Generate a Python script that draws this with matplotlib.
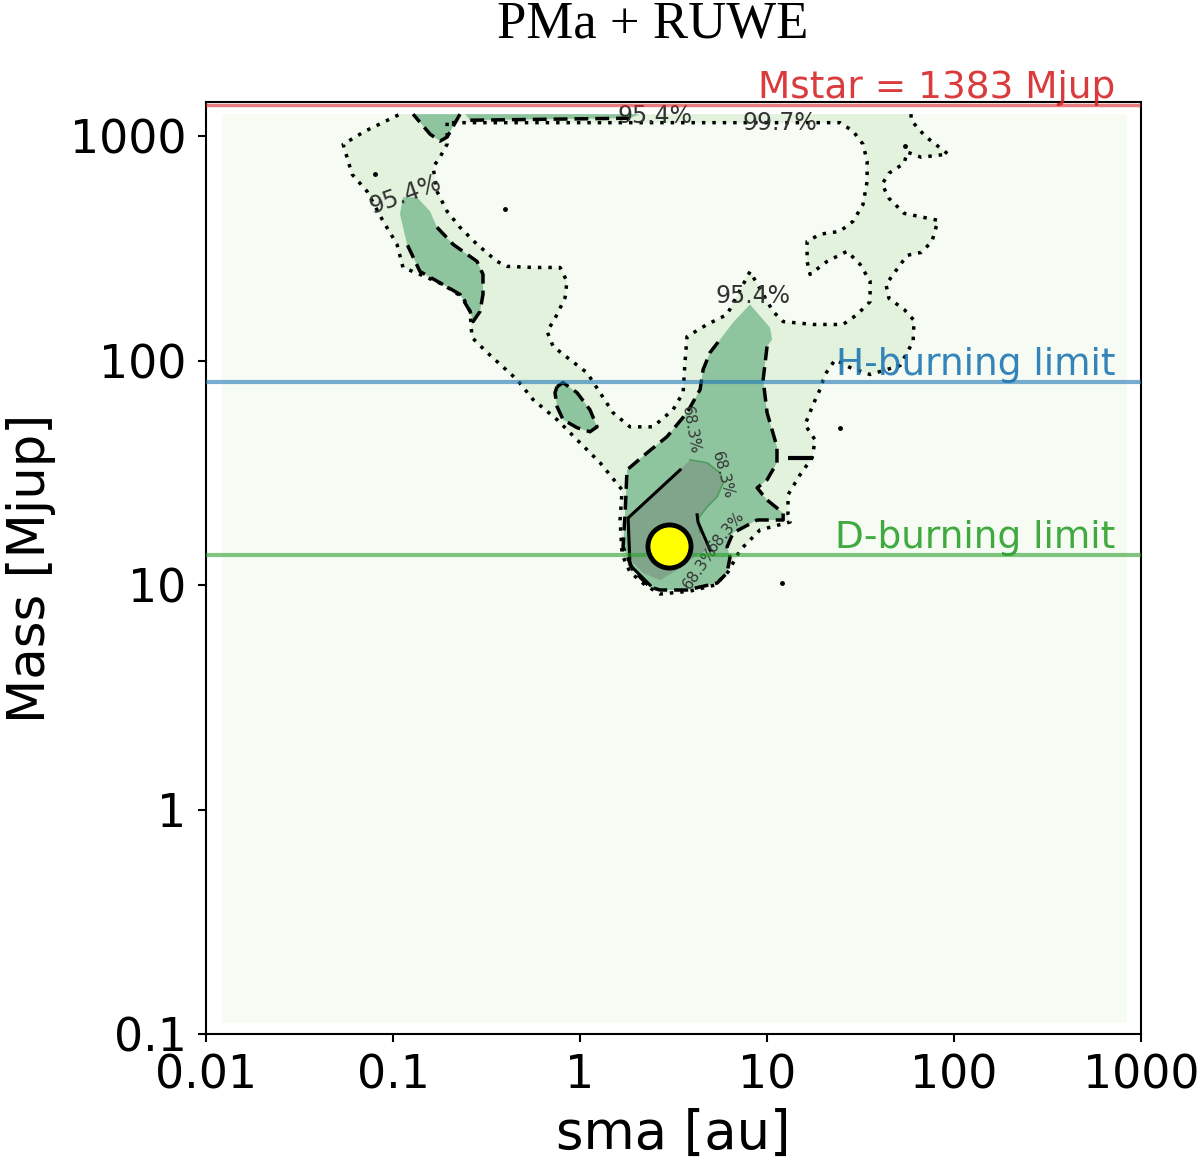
import numpy as np
import matplotlib
matplotlib.use("Agg")
import matplotlib.pyplot as plt
from matplotlib.ticker import NullLocator

# ---- data (log10 sma [au], log10 mass [Mjup]) ----
grid_sma = [0.0122, 841.0]          # extent of the probability map
grid_mass = [0.112, 1254.0]

# 99.7 % region: outer boundary and the empty hole inside it
outer_997 = [(-0.963, 3.098), (1.770, 3.098), (1.770, 3.071), (1.845, 3.0), (1.968, 2.920),
             (1.824, 2.906), (1.749, 2.929), (1.733, 2.879), (1.652, 2.835), (1.615, 2.786),
             (1.652, 2.723), (1.733, 2.656), (1.914, 2.625), (1.882, 2.531), (1.824, 2.482),
             (1.749, 2.469), (1.690, 2.402), (1.636, 2.339), (1.652, 2.277), (1.733, 2.228),
             (1.786, 2.179), (1.781, 2.085), (1.711, 1.978), (1.551, 1.938), (1.444, 1.969),
             (1.364, 2.004), (1.310, 1.938), (1.283, 1.871), (1.246, 1.804), (1.203, 1.714),
             (1.257, 1.647), (1.241, 1.567), (1.176, 1.491), (1.112, 1.402), (1.112, 1.313),
             (1.123, 1.281), (0.963, 1.246), (0.856, 1.156), (0.791, 1.058), (0.722, 1.0),
             (0.588, 0.973), (0.428, 0.960), (0.348, 1.0), (0.267, 1.058), (0.225, 1.134),
             (0.214, 1.290), (0.225, 1.424), (0.107, 1.545), (-0.016, 1.647), (-0.123, 1.737),
             (-0.251, 1.826), (-0.337, 1.915), (-0.497, 2.036), (-0.578, 2.103), (-0.588, 2.219),
             (-0.626, 2.281), (-0.733, 2.339), (-0.856, 2.384), (-0.947, 2.415), (-0.979, 2.518),
             (-1.053, 2.621), (-1.139, 2.754), (-1.219, 2.830), (-1.267, 2.964), (-1.150, 3.022),
             (-0.963, 3.098)]
hole_997 = [(-0.711, 3.06), (-0.711, 2.964), (-0.749, 2.906), (-0.786, 2.862), (-0.765, 2.754),
            (-0.711, 2.665), (-0.642, 2.594), (-0.551, 2.518), (-0.444, 2.442), (-0.390, 2.420),
            (-0.251, 2.415), (-0.107, 2.415), (-0.070, 2.353), (-0.080, 2.281), (-0.123, 2.205),
            (-0.176, 2.129), (-0.144, 2.063), (-0.053, 2.004), (0.037, 1.946), (0.107, 1.857),
            (0.176, 1.768), (0.267, 1.705), (0.390, 1.705), (0.497, 1.781), (0.551, 1.857),
            (0.561, 1.991), (0.572, 2.107), (0.679, 2.161), (0.786, 2.205), (0.909, 2.397),
            (1.032, 2.219), (1.086, 2.174), (1.246, 2.161), (1.406, 2.161), (1.481, 2.205),
            (1.551, 2.263), (1.551, 2.353), (1.497, 2.429), (1.428, 2.487), (1.321, 2.442),
            (1.230, 2.384), (1.214, 2.442), (1.214, 2.531), (1.283, 2.563), (1.390, 2.576),
            (1.460, 2.621), (1.513, 2.696), (1.535, 2.799), (1.535, 2.888), (1.513, 2.964),
            (1.460, 3.022), (1.390, 3.06), (-0.711, 3.06)]

# 95.4 % regions
core_954 = [(0.909, 2.25), (1.016, 2.147), (1.027, 2.094), (1.0, 2.063), (0.979, 1.915),
            (1.0, 1.768), (1.053, 1.616), (1.053, 1.545), (1.0, 1.469), (0.947, 1.433),
            (1.0, 1.379), (1.086, 1.321), (1.086, 1.290), (0.947, 1.290), (0.818, 1.232),
            (0.786, 1.170), (0.802, 1.125), (0.786, 1.054), (0.733, 1.009), (0.572, 0.978),
            (0.428, 0.978), (0.374, 0.991), (0.283, 1.067), (0.230, 1.170), (0.241, 1.321),
            (0.251, 1.513), (0.358, 1.589), (0.465, 1.661), (0.572, 1.768), (0.642, 1.871),
            (0.658, 1.960), (0.695, 2.036), (0.749, 2.094), (0.818, 2.170)]
island_954 = [(-0.123, 1.884), (-0.091, 1.902), (-0.016, 1.857), (0.053, 1.781), (0.091, 1.705),
              (0.053, 1.683), (-0.016, 1.701), (-0.091, 1.737), (-0.123, 1.795), (-0.134, 1.857),
              (-0.123, 1.884)]
arm_954 = [(-0.947, 2.728), (-0.872, 2.728), (-0.802, 2.665), (-0.765, 2.594), (-0.679, 2.518),
           (-0.551, 2.442), (-0.519, 2.384), (-0.519, 2.295), (-0.535, 2.219), (-0.572, 2.174),
           (-0.588, 2.219), (-0.642, 2.295), (-0.733, 2.339), (-0.856, 2.397), (-0.925, 2.518),
           (-0.963, 2.652)]
top_954 = [(-0.893, 3.098), (-0.642, 3.098), (-0.711, 2.996), (-0.749, 2.978), (-0.802, 3.009)]
band_954 = [(-0.615, 3.098), (0.321, 3.098), (0.267, 3.080), (-0.588, 3.071)]

# 68.3 % region and its solid contour pieces
core_683 = [(0.588, 1.558), (0.679, 1.545), (0.749, 1.5), (0.765, 1.455), (0.733, 1.393),
            (0.679, 1.348), (0.626, 1.290), (0.642, 1.232), (0.684, 1.156), (0.626, 1.134),
            (0.519, 1.067), (0.428, 1.022), (0.337, 1.054), (0.267, 1.112), (0.251, 1.201),
            (0.257, 1.299), (0.390, 1.402), (0.519, 1.5)]
line_683_left = [(0.374, 1.0), (0.267, 1.089), (0.257, 1.299), (0.535, 1.513)]
line_683_right = [(0.626, 1.313), (0.631, 1.280), (0.695, 1.156)]

speck_sma = [0.397, 54.7, 24.5, 0.080, 12.0]
speck_mass = [472, 902, 50.2, 676, 10.2]
dash_sma = [15.0]
dash_mass = [36.9]

planet_sma = [3.0]
planet_mass = [14.9]

mstar = 1383
h_burning = 80
d_burning = 13.6
label_sma = 726

xtick_vals = [0.01, 0.1, 1, 10, 100, 1000]
xtick_labels = ["0.01", "0.1", "1", "10", "100", "1000"]
ytick_vals = [0.1, 1, 10, 100, 1000]
ytick_labels = ["0.1", "1", "10", "100", "1000"]

# contour labels: (text, log sma, log mass, rotation, size)
clabels = [("95.4%", 0.401, 3.089, 0, 17), ("99.7%", 1.070, 3.060, 0, 17),
           ("95.4%", -0.936, 2.741, 20, 17), ("95.4%", 0.925, 2.286, 0, 17),
           ("68.3%", 0.590, 1.690, -80, 11), ("68.3%", 0.760, 1.490, -75, 11),
           ("68.3%", 0.780, 1.240, 50, 11), ("68.3%", 0.640, 1.080, 55, 11)]

BG = "#f6fbf4"
C997 = "#e2f2dd"
C954 = "#8fc59e"
C683 = "#80a58b"


def xy(pairs):
    a = np.asarray(pairs, dtype=float)
    return 10 ** a[:, 0], 10 ** a[:, 1]


DOT = (0, (1, 2))
DASH = (0, (4, 2))

fig = plt.figure(figsize=(12, 11.64), dpi=100)
ax = fig.add_axes([0.1717, 0.1117, 0.7792, 0.8007])
ax.set_xscale("log")
ax.set_yscale("log")

# probability map background
gx, gy = grid_sma, grid_mass
ax.fill([gx[0], gx[1], gx[1], gx[0]], [gy[0], gy[0], gy[1], gy[1]], color=BG, lw=0, zorder=0)

# 99.7 %
x, y = xy(outer_997)
ax.fill(x, y, color=C997, lw=0, zorder=1)
ax.plot(x[1:], y[1:], color="k", lw=2.5, ls=DOT, zorder=4)
x, y = xy(hole_997)
ax.fill(x, y, color=BG, lw=0, zorder=1.5)
ax.plot(x, y, color="k", lw=2.5, ls=DOT, zorder=4)

# 95.4 %
x, y = xy(core_954)
ax.fill(x, y, color=C954, lw=0, zorder=2)
ax.plot(x[3:-1], y[3:-1], color="k", lw=2.5, ls=DASH, zorder=4)
x, y = xy(island_954)
ax.fill(x, y, color=C954, lw=0, zorder=2)
ax.plot(x, y, color="k", lw=2.5, ls=DASH, zorder=4)
x, y = xy(arm_954)
ax.fill(x, y, color=C954, lw=0, zorder=2)
ax.plot(x[3:15], y[3:15], color="k", lw=2.5, ls=DASH, zorder=4)
x, y = xy(top_954)
ax.fill(x, y, color=C954, lw=0, zorder=2)
ax.plot(np.r_[x[1:], x[0]], np.r_[y[1:], y[0]], color="k", lw=2.5, ls=DASH, zorder=4)
x, y = xy(band_954)
ax.fill(x, y, color=C954, lw=0, zorder=2)
ax.plot(x[2:], y[2:], color="k", lw=2.5, ls=DASH, zorder=4)

# 68.3 %
x, y = xy(core_683)
ax.fill(x, y, color=C683, lw=0, zorder=3)
ax.plot(x[:8], y[:8], color="#4f9d5f", lw=1.2, zorder=3.5)
for piece in (line_683_left, line_683_right):
    x, y = xy(piece)
    ax.plot(x, y, color="k", lw=2.2, zorder=4)

ax.plot(speck_sma, speck_mass, ".", color="k", ms=5, zorder=4)
ax.plot(dash_sma, dash_mass, "_", color="k", ms=18, mew=3, zorder=4)

for txt, lx, ly, rot, fs in clabels:
    ax.text(10 ** lx, 10 ** ly, txt, color="#333333", fontsize=fs, rotation=rot,
            ha="center", va="center", zorder=5)

# reference lines
ax.axhline(mstar, color="tab:red", lw=2.5, alpha=0.6, zorder=6)
ax.axhline(h_burning, color="tab:blue", lw=3, alpha=0.6, zorder=6)
ax.axhline(d_burning, color="tab:green", lw=3, alpha=0.6, zorder=6)
for txt, lvl, col in (("Mstar = 1383 Mjup", mstar, "tab:red"),
                      ("H-burning limit", h_burning, "tab:blue"),
                      ("D-burning limit", d_burning, "tab:green")):
    ax.annotate(txt, xy=(label_sma, lvl), xytext=(0, 5), textcoords="offset points",
                ha="right", va="baseline", color=col, fontsize=27, alpha=0.9,
                annotation_clip=False, zorder=7)

ax.plot(planet_sma, planet_mass, "o", ms=31, mfc="yellow", mec="black", mew=3.5, zorder=8)

ax.set_xlim(0.01, 1000)
ax.set_ylim(0.1, 1420)
ax.set_xticks(xtick_vals, xtick_labels)
ax.set_yticks(ytick_vals, ytick_labels)
ax.xaxis.set_minor_locator(NullLocator())
ax.yaxis.set_minor_locator(NullLocator())
ax.tick_params(labelsize=33, length=6, width=1.5, pad=8)
for s in ax.spines.values():
    s.set_linewidth(1.5)

ax.set_xlabel("sma [au]", fontsize=38)
ax.set_ylabel("Mass [Mjup]", fontsize=37)
ax.xaxis.set_label_coords(0.5, -0.079)
ax.yaxis.set_label_coords(-0.160, 0.5)

fig.text(0.544, 0.9674, "PMa + RUWE", ha="center", va="baseline",
         family="Liberation Serif", fontsize=38)

fig.savefig("out.png", dpi=100)
